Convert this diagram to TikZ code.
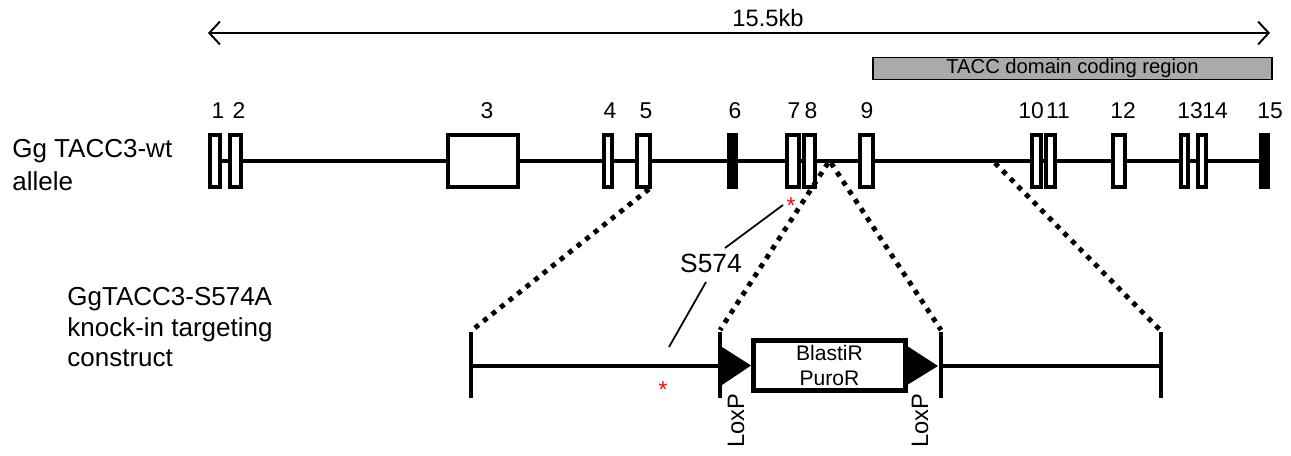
\documentclass[tikz,border=0pt]{standalone}
\usepackage{fontspec}
\setmainfont{Liberation Sans}
\usetikzlibrary{arrows.meta,calc}
\definecolor{taccgray}{RGB}{170,170,170}
\tikzset{
  exon/.style={draw,line width=2.3pt,fill=white},
  gene/.style={line width=2.3pt},
  dots/.style={line width=2.8pt,dash pattern=on 2.8pt off 3.4pt},
  pointer/.style={line width=1pt},
  num/.style={font=\fontsize{13}{15}\selectfont,inner sep=0pt,anchor=base},
  lbl/.style={font=\fontsize{14.8}{17}\selectfont,inner sep=0pt,anchor=base west},
  redstar/.style={text=red,font=\fontsize{13}{15}\selectfont,inner sep=0pt,anchor=north},
  loxp/.style={rotate=90,anchor=east,inner sep=0pt,font=\fontsize{13.5}{16}\selectfont},
}
\begin{document}
\begin{tikzpicture}[x=0.02cm,y=-0.02cm]
\useasboundingbox (0,0) rectangle (1291,456);
% scale bar
\coordinate (kbL) at (208,33);
\coordinate (kbR) at (1270,33);
\draw[line width=1.1pt,{Straight Barb[length=6pt,width=13pt]}-{Straight Barb[length=6pt,width=13pt]}] (kbL) -- (kbR);
\node[num,font=\fontsize{13.5}{15}\selectfont] (kb) at (768,27) {15.5kb};
\node[draw,fill=taccgray,line width=1.1pt,minimum width=7.98cm,minimum height=0.44cm,inner sep=0pt,font=\fontsize{11.5}{12}\selectfont] (tacc) at (1072.5,68.5) {TACC domain coding region};
% wild type allele
\node[lbl] (wt1) at (12,157) {Gg TACC3-wt};
\node[lbl] (wt2) at (12,190) {allele};
\draw[gene] (215,161) -- (1265,161);
\foreach \l/\r/\n in {208/222/1,228/243/2,446/520/3,602/614/4,635/652/5,785/801/7,802/817/8,858/875/9,1030/1043/10,1044/1057/11,1111/1127/12,1179/1190/13,1196/1208/14}
  \draw[exon] (\l+2,135) rectangle (\r-2,187);
\foreach \l/\r/\n in {727/738/6,1259/1270/15}
  \draw[exon,fill=black] (\l+2,135) rectangle (\r-2,187);
\foreach \x/\n in {218/1,239/2,487/3,610/4,646/5,735/6,794/7,811/8,867/9,1031/10,1058/11,1123/12,1190/13,1215/14,1270/15}
  \node[num] (n\n) at (\x,118) {\n};
% targeting construct
\node[lbl] (ki1) at (67,305) {GgTACC3-S574A};
\node[lbl] (ki2) at (67,336) {knock-in targeting};
\node[lbl] (ki3) at (67,366) {construct};
\coordinate (armL) at (471,366);
\coordinate (lox1) at (720,366);
\coordinate (lox2) at (941,366);
\coordinate (armR) at (1161,366);
\foreach \p in {armL,lox1,lox2,armR}
  \draw[gene] ($(\p)+(0,-34)$) -- ($(\p)+(0,32)$);
\draw[gene] (armL) -- (lox1);
\draw[gene] (lox2) -- (armR);
\node[draw,line width=2.8pt,minimum width=3.04cm,minimum height=1cm,inner sep=0pt,align=center,font=\fontsize{12}{14.7}\selectfont] (cassette) at (829.5,365.5) {BlastiR\\PuroR};
\fill (722,347) -- (cassette.west) -- (722,385) -- cycle;
\fill ($(cassette.east)+(0,-19)$) -- (938,366) -- ($(cassette.east)+(0,19)$) -- cycle;
\node[loxp] (loxtxt1) at (736,393) {LoxP};
\node[loxp] (loxtxt2) at (920,393) {LoxP};
% zoom lines
\coordinate (e5) at (649,189);
\coordinate (i8a) at (828,163);
\coordinate (i8b) at (831,163);
\coordinate (i11) at (995,163);
\draw[dots] (e5) -- ($(armL)+(0,-35)$);
\draw[dots] (i8a) -- ($(lox1)+(0,-36)$);
\draw[dots] (i8b) -- ($(lox2)+(0,-36)$);
\draw[dots] (i11) -- ($(armR)+(0,-35)$);
% S574 site
\node[redstar] (star1) at (791,197.5) {*};
\node[redstar] (star2) at (663,381.5) {*};
\node[inner sep=0pt,font=\fontsize{15}{18}\selectfont] (s574) at (711,263) {S574};
\draw[pointer] (725,248) -- (783,205);
\draw[pointer] (706,282) -- (669,347);
\end{tikzpicture}
\end{document}
